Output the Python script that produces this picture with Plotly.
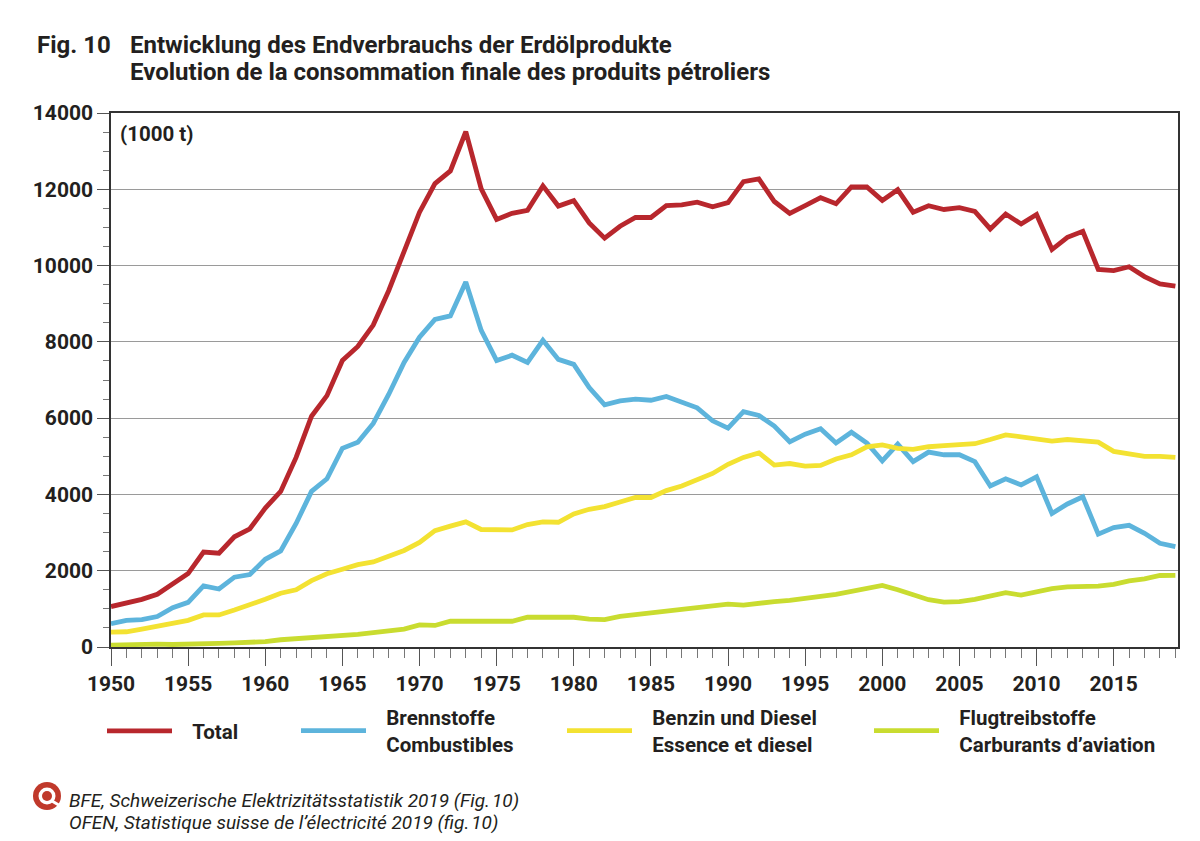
import plotly.graph_objects as go

years = list(range(1950, 2020))

total = [1060, 1145, 1250, 1380, 1670, 1925, 2490, 2460, 2890, 3100,
         3640, 4080, 4970, 6050, 6590, 7510, 7880, 8440, 9340, 10410,
         11400, 12150, 12480, 13510, 12010, 11210, 11370, 11450, 12090, 11560,
         11700, 11120, 10720, 11030, 11260, 11260, 11570, 11590, 11660, 11540,
         11650, 12200, 12270, 11680, 11370, 11570, 11780, 11620, 12060, 12060,
         11710, 11990, 11400, 11570, 11470, 11520, 11420, 10960, 11350, 11090,
         11340, 10420, 10740, 10900, 9900, 9870, 9970, 9710, 9520, 9460]

brennstoffe = [610, 700, 720, 800, 1030, 1170, 1600, 1520, 1830, 1900,
               2300, 2520, 3240, 4080, 4410, 5210, 5370, 5860, 6620, 7460,
               8120, 8590, 8680, 9570, 8300, 7510, 7650, 7460, 8040, 7540,
               7410, 6800, 6350, 6450, 6500, 6470, 6570, 6430, 6270, 5930,
               5740, 6170, 6070, 5790, 5380, 5580, 5720, 5350, 5630, 5350,
               4880, 5320, 4860, 5110, 5040, 5040, 4860, 4220, 4410, 4250,
               4460, 3500, 3750, 3940, 2960, 3130, 3190, 2980, 2720, 2630]

benzin_diesel = [390, 400, 470, 540, 640, 700, 840, 840, 970, 1100,
                 1250, 1410, 1500, 1740, 1920, 2040, 2160, 2230, 2370, 2530,
                 2740, 3050, 3170, 3280, 3080, 3070, 3070, 3210, 3280, 3270,
                 3490, 3610, 3680, 3800, 3920, 3920, 4100, 4220, 4390, 4550,
                 4790, 4970, 5090, 4770, 4810, 4740, 4760, 4930, 5040, 5250,
                 5300, 5210, 5180, 5250, 5280, 5300, 5330, 5440, 5560, 5510,
                 5470, 5400, 5440, 5410, 5370, 5130, 5070, 5000, 5000, 4970]

flugtreibstoffe = [50, 65, 90, 75, 65, 65, 65, 95, 110, 115,
                   140, 190, 215, 255, 280, 300, 330, 375, 420, 470,
                   580, 565, 675, 675, 655, 675, 675, 780, 780, 770,
                   780, 730, 720, 800, 845, 890, 940, 965, 1030, 1080,
                   1125, 1100, 1155, 1190, 1220, 1285, 1330, 1380, 1455, 1550,
                   1615, 1500, 1360, 1240, 1175, 1190, 1250, 1340, 1425, 1360,
                   1455, 1530, 1575, 1585, 1595, 1640, 1735, 1785, 1875, 1880]

NB = "\u00a0\u00a0\u00a0"
series = [
    (NB + "Total", total, "#b8272d", "legend"),
    (NB + "Brennstoffe<br>" + NB + "Combustibles", brennstoffe, "#5db4dc", "legend2"),
    (NB + "Benzin und Diesel<br>" + NB + "Essence et diesel", benzin_diesel, "#f3e232", "legend3"),
    (NB + "Flugtreibstoffe<br>" + NB + "Carburants d\u2019aviation", flugtreibstoffe, "#c9dc30", "legend4"),
]

# page has an 8px body margin, so the figure is drawn 8px in from the corner
OFF = 8
W, H = 1200 - OFF, 841 - OFF
L, R, T, B = 111, 1178, 113, 647   # plot area, page pixels


def px(x):
    return (x - L) / (R - L)


def py(y):
    return (B - y) / (B - T)


FONT = "Roboto"
TXT = "#231f20"

fig = go.Figure()
for name, vals, col, leg in series:
    fig.add_trace(go.Scatter(x=years, y=vals, name=name, mode="lines",
                             line=dict(color=col, width=4.8),
                             legend=leg))

legend_style = dict(orientation="h", xanchor="left", yanchor="middle",
                    bgcolor="rgba(0,0,0,0)", borderwidth=0, itemwidth=65,
                    font=dict(family=FONT, size=20.5, color=TXT, weight=700))
leg_x = [102, 296, 562, 869]
legends = {}
for i, key in enumerate(["legend", "legend2", "legend3", "legend4"]):
    legends[key] = dict(legend_style, x=px(leg_x[i]), y=py(731))

ax_font = dict(family=FONT, size=21, color=TXT, weight=700)

fig.update_layout(
    width=W, height=H,
    margin=dict(l=L - OFF, r=W - (R - OFF), t=T - OFF, b=H - (B - OFF)),
    paper_bgcolor="white", plot_bgcolor="white",
    showlegend=True,
    **legends,
    xaxis=dict(range=[1950, 2019.17], tickmode="linear", tick0=1950, dtick=5,
               ticks="outside", ticklen=17, tickcolor="#555", tickwidth=1,
               minor=dict(ticks="outside", ticklen=9, dtick=1, tick0=1950,
                          tickcolor="#777", tickwidth=1, showgrid=False),
               showgrid=False, zeroline=False,
               showline=True, linecolor="#333", linewidth=1.5, mirror=True,
               tickfont=ax_font),
    yaxis=dict(range=[0, 14000], tickmode="linear", tick0=0, dtick=2000,
               tickformat="d",
               ticks="outside", ticklen=12, tickcolor="#555", tickwidth=1,
               minor=dict(ticks="outside", ticklen=6, dtick=500,
                          tickcolor="#777", tickwidth=1, showgrid=False),
               showgrid=True, gridcolor="#9a9a9a", gridwidth=1,
               zeroline=False,
               showline=True, linecolor="#333", linewidth=1.5, mirror=True,
               tickfont=ax_font),
)

title_font = dict(family=FONT, size=24, color=TXT, weight=700)
fig.add_annotation(text="Fig. 10", xref="paper", yref="paper",
                   x=px(35), y=py(45), xanchor="left", yanchor="middle",
                   showarrow=False, font=title_font)
fig.add_annotation(text="Entwicklung des Endverbrauchs der Erdölprodukte",
                   xref="paper", yref="paper", x=px(128), y=py(45),
                   xanchor="left", yanchor="middle", showarrow=False,
                   font=title_font)
fig.add_annotation(text="Evolution de la consommation finale des produits pétroliers",
                   xref="paper", yref="paper", x=px(128), y=py(72),
                   xanchor="left", yanchor="middle", showarrow=False,
                   font=title_font)
fig.add_annotation(text="(1000 t)", xref="paper", yref="paper",
                   x=px(118), y=py(134), xanchor="left", yanchor="middle",
                   showarrow=False,
                   font=dict(family=FONT, size=20.5, color=TXT, weight=700))

foot_font = dict(family=FONT, size=19, color=TXT, style="italic")
fig.add_annotation(text="BFE, Schweizerische Elektrizitätsstatistik 2019 (Fig.\u200a10)",
                   xref="paper", yref="paper", x=px(67), y=py(800),
                   xanchor="left", yanchor="middle", showarrow=False,
                   font=foot_font)
fig.add_annotation(text="OFEN, Statistique suisse de l\u2019électricité 2019 (fig.\u200a10)",
                   xref="paper", yref="paper", x=px(67), y=py(822),
                   xanchor="left", yanchor="middle", showarrow=False,
                   font=foot_font)

# source logo
cx, cy = 47, 796
for r, col in [(14, "#c0392b"), (8.5, "white"), (5, "#c0392b")]:
    fig.add_shape(type="circle", xref="paper", yref="paper",
                  x0=px(cx - r), x1=px(cx + r), y0=py(cy + r), y1=py(cy - r),
                  fillcolor=col, line=dict(width=0))
fig.add_shape(type="line", xref="paper", yref="paper",
              x0=px(cx + 5), y0=py(cy + 5), x1=px(cx + 15), y1=py(cy + 11),
              line=dict(color="white", width=3))

fig.write_html("out.html")
